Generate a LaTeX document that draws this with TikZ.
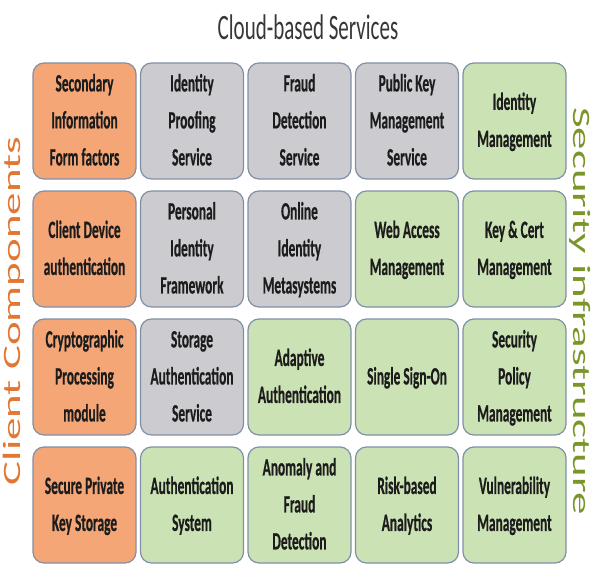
\documentclass[tikz,border=0pt]{standalone}
\usepackage{fontspec}
\setmainfont{Carlito}
\newfontfamily\cellfont{Carlito}[FakeBold=0.8]
\usepackage{graphicx}
\definecolor{orfill}{RGB}{244,166,118}
\definecolor{grfill}{RGB}{203,203,208}
\definecolor{gnfill}{RGB}{203,226,180}
\definecolor{bord}{RGB}{128,144,168}
\definecolor{txt}{RGB}{28,28,28}
\definecolor{orlab}{RGB}{226,118,50}
\definecolor{gnlab}{RGB}{122,150,40}
\definecolor{ttl}{RGB}{55,55,55}
\newcommand\boxtxt[1]{\scalebox{1}[1.85]{\cellfont\bfseries\fontsize{13.4}{20}\selectfont\begin{tabular}{@{}c@{}}#1\end{tabular}}}
\newcommand\sidetxt[1]{\scalebox{1.8}[1]{\fontsize{25}{30}\selectfont #1}}
\tikzset{
  cell/.style={draw=bord, line width=1.2pt, rounded corners=11pt, minimum width=103pt, minimum height=116pt, inner sep=0pt, text=txt},
  orc/.style={cell, fill=orfill},
  grc/.style={cell, fill=grfill},
  gnc/.style={cell, fill=gnfill}
}
\begin{document}
\begin{tikzpicture}[x=1pt,y=1pt]
\useasboundingbox (0,0) rectangle (591,-564);
\node[text=ttl] (title) at (308,-27) {\scalebox{1}[1.7]{\fontsize{21}{25}\selectfont Cloud-based Services}};
\node[rotate=90, text=orlab] (client) at (14,-311) {\sidetxt{Client Components}};
\node[rotate=-90, text=gnlab] (secinf) at (580,-311) {\sidetxt{Security infrastructure}};
% row 1
\node[orc] (a1) at (84.5,-121) {\boxtxt{Secondary\\Information\\Form factors}};
\node[grc] (b1) at (192,-121) {\boxtxt{Identity\\Proofing\\Service}};
\node[grc] (c1) at (299.5,-121) {\boxtxt{Fraud\\Detection\\Service}};
\node[grc] (d1) at (407,-121) {\boxtxt{Public Key\\Management\\Service}};
\node[gnc] (e1) at (514.5,-121) {\boxtxt{Identity\\Management}};
% row 2
\node[orc] (a2) at (84.5,-249) {\boxtxt{Client Device\\authentication}};
\node[grc] (b2) at (192,-249) {\boxtxt{Personal\\Identity\\Framework}};
\node[grc] (c2) at (299.5,-249) {\boxtxt{Online\\Identity\\Metasystems}};
\node[gnc] (d2) at (407,-249) {\boxtxt{Web Access\\Management}};
\node[gnc] (e2) at (514.5,-249) {\boxtxt{Key \& Cert\\Management}};
% row 3
\node[orc] (a3) at (84.5,-377) {\boxtxt{Cryptographic\\Processing\\module}};
\node[grc] (b3) at (192,-377) {\boxtxt{Storage\\Authentication\\Service}};
\node[gnc] (c3) at (299.5,-377) {\boxtxt{Adaptive\\Authentication}};
\node[gnc] (d3) at (407,-377) {\boxtxt{Single Sign-On}};
\node[gnc] (e3) at (514.5,-377) {\boxtxt{Security\\Policy\\Management}};
% row 4
\node[orc] (a4) at (84.5,-505) {\boxtxt{Secure Private\\Key Storage}};
\node[gnc] (b4) at (192,-505) {\boxtxt{Authentication\\System}};
\node[gnc] (c4) at (299.5,-505) {\boxtxt{Anomaly and\\Fraud\\Detection}};
\node[gnc] (d4) at (407,-505) {\boxtxt{Risk-based\\Analytics}};
\node[gnc] (e4) at (514.5,-505) {\boxtxt{Vulnerability\\Management}};
\end{tikzpicture}
\end{document}
